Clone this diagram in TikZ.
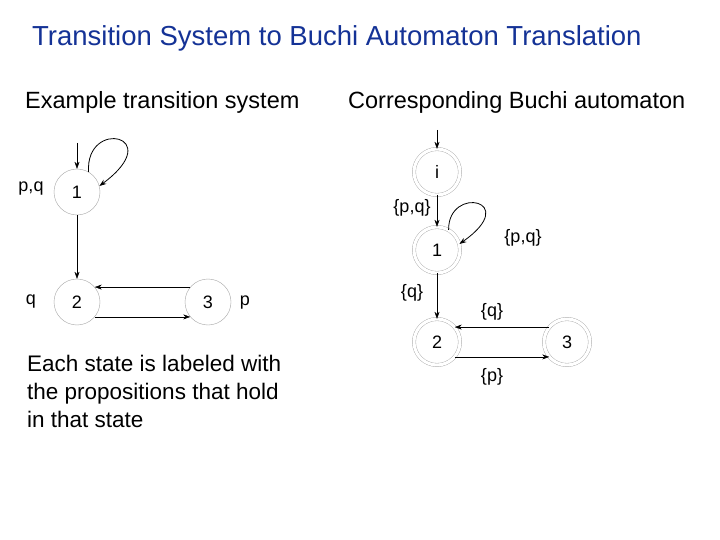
\documentclass[tikz,border=0pt]{standalone}
\usepackage{fontspec}
\setmainfont{Liberation Sans}
\usetikzlibrary{arrows.meta}
\begin{document}
\begin{tikzpicture}[x=1pt,y=-1pt,
  st/.style={circle,draw=black!35,minimum size=46pt,inner sep=0pt,font=\fontsize{18}{18}\selectfont},
  acc/.style={st,double=white,double distance=3pt},
  lab/.style={font=\fontsize{18}{18}\selectfont},
  ed/.style={-{Stealth[length=7pt,width=5pt]},black},
  txt/.style={font=\fontsize{22.5}{28}\selectfont,anchor=base west,inner sep=0pt}]
\useasboundingbox[fill=white] (0,0) rectangle (720,540);
\node[txt,font=\fontsize{27.5}{28}\selectfont,text={rgb,255:red,20;green,50;blue,150}] (title) at (32,46) {Transition System to Buchi Automaton Translation};
\node[txt,font=\fontsize{23.5}{28}\selectfont] (h1) at (25,109) {Example transition system};
\node[txt,font=\fontsize{23.5}{28}\selectfont] (h2) at (348,109) {Corresponding Buchi automaton};
\node[txt,align=left,anchor=north west] (note) at (27,355) {Each state is labeled with\\the propositions that hold\\in that state};
% left
\node[st] (a1) at (77,192) {1};
\node[st] (a2) at (77,302) {2};
\node[st] (a3) at (208,302) {3};
\coordinate (ai) at (77,143);
\draw[ed] (ai) -- (a1);
\draw[ed] (a1) -- (a2);
\draw[ed] (a2.-40) -- (a3.220);
\draw[ed] (a3.140) -- (a2.40);
\draw[ed,thick] (a1.60) .. controls (85,118) and (168,135) .. (a1.15);
\node[lab] (l1) at (31,189) {p,q};
\node[lab] (l2) at (31,302) {q};
\node[lab] (l3) at (245,303) {p};
% right
\node[acc] (bi) at (437,172) {i};
\node[acc] (b1) at (437,250) {1};
\node[acc] (b2) at (437,342) {2};
\node[acc] (b3) at (567,342) {3};
\coordinate (bin) at (437,130);
\draw[ed] (bin) -- (bi);
\draw[ed] (bi) -- (b1);
\draw[ed] (b1) -- (b2);
\draw[ed] (b2.-40) -- (b3.220);
\draw[ed] (b3.140) -- (b2.40);
\draw[ed,thick] (b1.60) .. controls (448,185) and (522,200) .. (b1.15);
\node[lab] (m1) at (412,208) {\{p,q\}};
\node[lab] (m2) at (523,238) {\{p,q\}};
\node[lab] (m3) at (412,293) {\{q\}};
\node[lab] (m4) at (492,312) {\{q\}};
\node[lab] (m5) at (492,377) {\{p\}};
\end{tikzpicture}
\end{document}
